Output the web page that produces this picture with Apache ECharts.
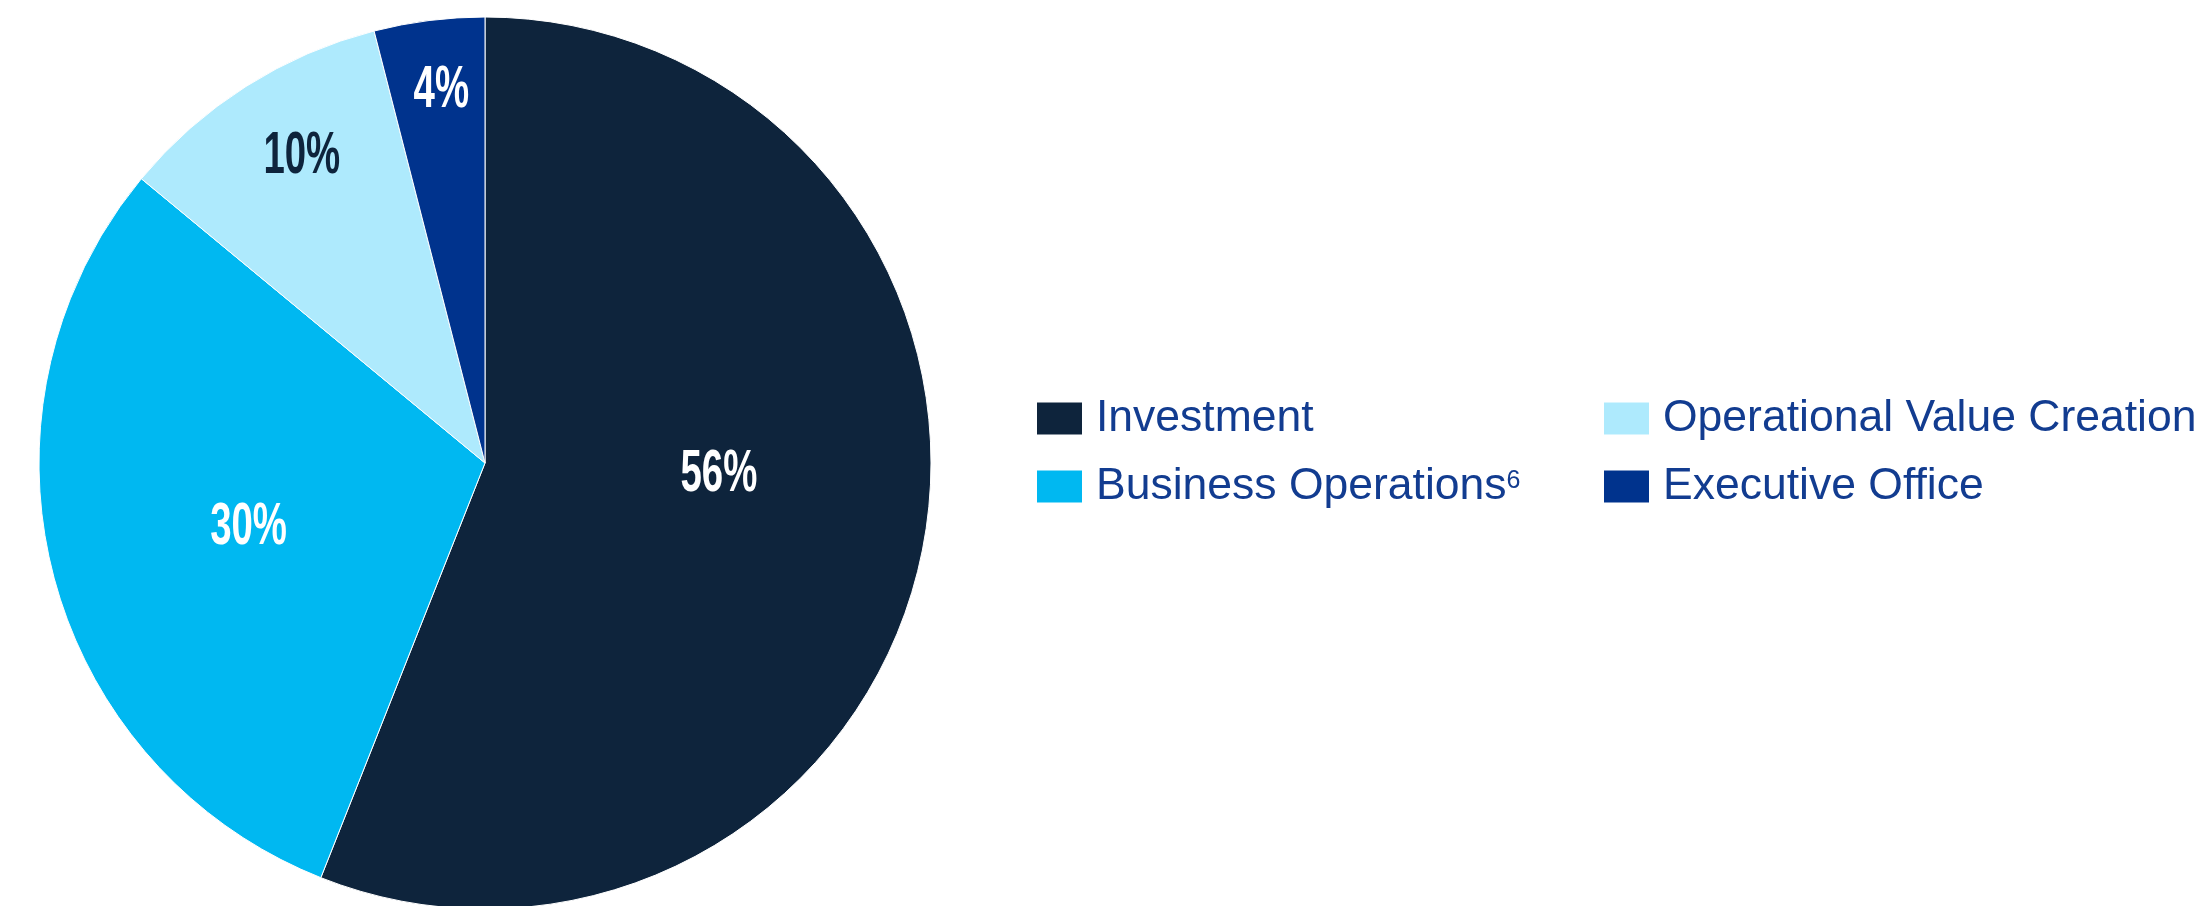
<!DOCTYPE html>
<html>
<head>
<meta charset="utf-8">
<title>Headcount by function</title>
<script src="https://cdn.jsdelivr.net/npm/echarts@6/dist/echarts.min.js"></script>
<style>
  html, body { margin: 0; padding: 0; background: #ffffff; }
  #chart { width: 2200px; height: 906px; }
</style>
</head>
<body>
<div id="chart"></div>
<script>
// Share of staff by function (percent)
const categories = ['Investment', 'Business Operations', 'Operational Value Creation', 'Executive Office'];
const shares = [56, 30, 10, 4];
const sliceColors = ['#0e243c', '#00b8f1', '#aeeafd', '#00338d'];
const labelColors = ['#ffffff', '#ffffff', '#0e243c', '#ffffff'];

// Where each percentage sits inside its slice: fraction of the radius, and a small angular shift (degrees)
const labelRadiusFraction = [0.525, 0.55, 0.80, 0.84];
const labelAngleShift = [-8, -1, 1.5, 0.5];

const CX = 485, CY = 463, R = 446;

const total = shares.reduce((a, b) => a + b, 0);
const midAngles = [];
let acc = 0;
shares.forEach(v => {
  midAngles.push((acc + v / 2) / total * 360);
  acc += v;
});

const chart = echarts.init(document.getElementById('chart'), null, { renderer: 'canvas' });

const legendFont = "'Liberation Sans', Arial, sans-serif";
const legendText = {
  color: '#123c90',
  fontFamily: legendFont,
  fontSize: 44.5,
  lineHeight: 35,
  padding: [0, 0, 0, 8],
  rich: {
    n: { fontSize: 44.5, lineHeight: 35, color: '#123c90', fontFamily: legendFont },
    s: { fontSize: 25, lineHeight: 35, color: '#123c90', verticalAlign: 'top', fontFamily: legendFont }
  }
};

function legendFormatter(name) {
  if (name === 'Business Operations') return '{n|' + name + '}{s|6}';
  return '{n|' + name + '}';
}

function makeLegend(names, left) {
  return {
    data: names,
    orient: 'vertical',
    left: left,
    top: 396,
    icon: 'rect',
    itemWidth: 47,
    itemHeight: 34,
    itemGap: 23,
    padding: 0,
    selectedMode: false,
    formatter: legendFormatter,
    textStyle: legendText
  };
}

chart.setOption({
  animation: false,
  backgroundColor: '#ffffff',
  color: sliceColors,
  legend: [
    makeLegend([categories[0], categories[1]], 1035),
    makeLegend([categories[2], categories[3]], 1602)
  ],
  series: [
    {
      type: 'pie',
      center: [CX, CY],
      radius: [0, R],
      startAngle: 90,
      clockwise: true,
      silent: true,
      itemStyle: { borderColor: '#ffffff', borderWidth: 1 },
      label: { show: false },
      labelLine: { show: false },
      data: categories.map((name, i) => ({
        name: name,
        value: shares[i],
        itemStyle: { color: sliceColors[i] }
      }))
    },
    {
      // condensed percentage labels placed inside each slice
      type: 'custom',
      coordinateSystem: 'none',
      silent: true,
      z: 10,
      data: shares,
      renderItem: function (params, api) {
        const i = params.dataIndex;
        const a = (midAngles[i] + labelAngleShift[i]) * Math.PI / 180;
        const r = labelRadiusFraction[i] * R;
        return {
          type: 'text',
          x: CX + r * Math.sin(a),
          y: CY - r * Math.cos(a),
          scaleX: 0.65,
          style: {
            text: api.value(0) + '%',
            fill: labelColors[i],
            fontFamily: "'Liberation Sans', Arial, sans-serif",
            fontWeight: 'bold',
            fontSize: 59,
            align: 'center',
            verticalAlign: 'middle'
          }
        };
      }
    }
  ]
});
</script>
</body>
</html>
